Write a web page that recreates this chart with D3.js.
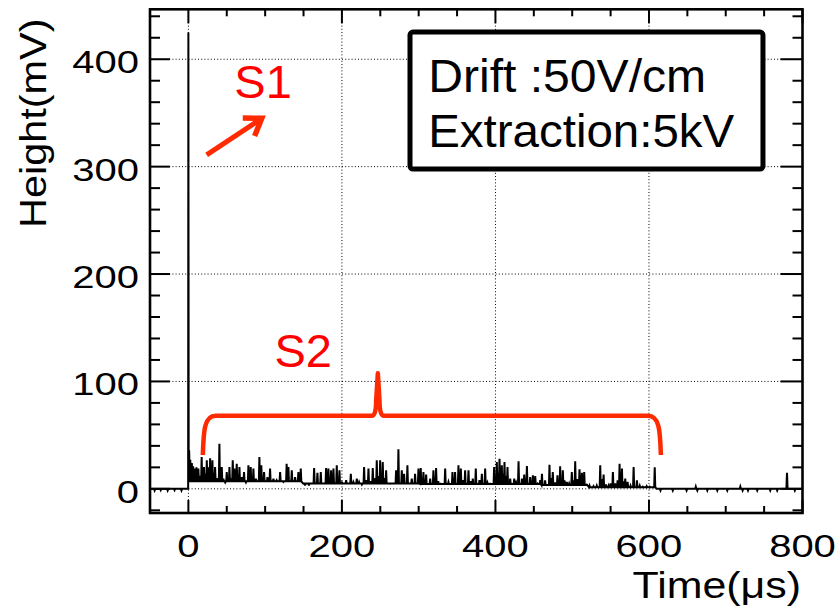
<!DOCTYPE html>
<html><head><meta charset="utf-8">
<script src="https://cdn.jsdelivr.net/npm/d3@7"></script>
<style>body{margin:0;background:#fff}svg{display:block}</style>
</head><body><svg id="c" width="838" height="611"></svg>
<script>
// ---------- data ----------
const xTickValues = [0, 200, 400, 600, 800];
const xTickLabels = ["0", "200", "400", "600", "800"];
const yTickValues = [0, 100, 200, 300, 400];
const yTickLabels = ["0", "100", "200", "300", "400"];
const xTitle = "Time(\u03BCs)";
const yTitle = "Height(mV)";
const boxLines = ["Drift :50V/cm", "Extraction:5kV"];

const s1Peak = [0, 425];               // [time us, height mV]
const s2Spikes = [
 [1.0,36],[2.5,27],[4.5,24],[6.2,21],[8.5,19],[10.5,20],[13,18.8],[15,12],[17.3,29.6],[20.3,20.3],
 [22,14],[24,26.5],[26,20],[28.3,28.5],[31.3,26.5],[33,15],[34.8,20.3],[37,10],[40.4,42],[43.5,20.3],
 [45.6,9.5],[48,6],[50,15.7],[53.5,20.3],[55.5,8],[57.8,26.5],[60,18.8],[63,23.4],[66.5,20.3],[69.5,11],
 [72.5,15.7],[75,6],[78.2,21.9],[81.2,20.3],[84.7,18.8],[88,9.5],[92.5,29.6],[95,21.9],[98.6,15.7],[101,7],
 [103,11],[106.4,18.8],[110.8,9.5],[115,8],[119.5,15.7],[123.8,6.4],[128,23.4],[130.3,20.3],[134.7,17.2],[139,11],
 [143.3,15.7],[146.4,18.8],[150,4.8],[152,3],[157,3],[163.8,19.4],[168.1,15],[172.5,15.7],[176,5],[179.4,19.4],
 [182.4,18.8],[185.9,17.2],[189,18.8],[193.3,21.9],[196.8,17.2],[200,6],[205.5,8],[211.6,14],[215,6.4],[219.4,9.5],
 [222.4,6.4],[226,4],[228.9,20.3],[231.5,8],[234.6,18.8],[237,7],[240.2,19.4],[243,10],[245.4,26.5],[247.5,12],
 [249.8,26.5],[253.2,25],[255.5,10],[257.6,17.2],[262.8,4.8],[267,5],[270.6,17.2],[273.6,36.8],[278,17.2],[281,14],
 [285.3,21.9],[291,9.5],[295.3,14],[299.7,18.8],[302.7,19.4],[306.2,15.7],[309.7,13.2],[315,9.5],[319.2,17.2],[322.7,19.4],
 [325.5,7],[328.8,4.8],[334.5,18.8],[338.8,6.4],[344,15.7],[347.4,15.7],[351.8,21.9],[354.9,18.8],[357.5,8],[360.5,17.2],
 [364.9,17.2],[367.5,7],[370.5,9.5],[374.4,18.8],[379.2,8],[382.3,14],[386.6,18.8],[389.5,6],[393.1,4.8],[398.3,20.3],
 [400.2,12],[401.8,25],[403.5,15],[405.3,28],[408.3,21.9],[410,14],[411.8,25],[413.5,12],[415.7,20.3],[419.2,9.5],
 [424.5,9.5],[427,6],[430.1,25.6],[434.5,9.5],[437.5,13.2],[441,21.3],[445.3,11],[448.8,12.6],[451.8,12],[455,5],
 [458.4,8],[460.6,14],[464.7,8],[470.4,22.5],[472.5,10],[474.7,15.7],[477.5,6],[480.8,12.6],[484.3,21],[487.8,17.2],
 [490,8],[493,6.4],[496,5],[499.5,15.7],[502,8],[503.9,25.6],[506.5,9],[509.5,18.2],[512.6,15],[515.6,15.7],
 [519,4],[522.6,3],[527.8,2.5],[532,3],[536.5,21.9],[538.5,9],[540.9,13.2],[544,4],[547.4,3],[550,5],
 [553,15.7],[556,5],[559.1,8],[561.7,23.4],[564.8,18.8],[566.5,7],[569.1,9.5],[572.2,6.4],[576,3],[580,20.3],
 [584.3,8],[588,3],[592,2],[597,2.5],[601,2],[607.5,20]
];
// valley level between S2 spikes: [from, to, mV]
const s2Floor = [[0,150,7],[150,300,5],[300,460,4.5],[460,520,3.5],[520,615,1.5]];
// small baseline excursions outside S2: [time, mV]
const baselineNoise = [
 [-44,-1.5],[-36,-1.2],[-27,-1.5],[-18,-1.2],[-9,-1.5],
 [615,-1.5],[631,-1.5],[649,-1.5],[661,2],[663,-1.5],[676,-1.5],[689,-1.5],[702,-1.5],
 [719,2],[722,-1.5],[729,-1.5],[741,-1.5],[758,-1.5],[767,-1.5],[779.8,15],[790,-1.5]
];
// annotations (data coordinates)
const s1Label = {text: "S1", t: 59.9, h: 363.9};
const s2Label = {text: "S2", t: 112.2, h: 113.7};
const s1Arrow = {t0: 23.8, h0: 310.9, t1: 95.6, h1: 345};
const s2Brace = {t0: 18.8, t1: 615.5, tMid: 246.8, hEnd: 31.5, hBar: 68, hPeak: 107.6};
const textBox = {t0: 288.7, t1: 748.5, h0: 297.8, h1: 425.3, tText: 312.4, hLines: [369.5, 318.5]};

// ---------- scales ----------
const svg = d3.select("#c");
const FONT = "'Liberation Sans', Arial, Helvetica, sans-serif";
const x = d3.scaleLinear().domain([-50, 800]).range([150, 802.5]);
const y = d3.scaleLinear().domain([-22.5, 446.5]).range([513, 9.3]);
const [X0, X1] = x.range(), [Y0, Y1] = y.range();

svg.append("rect").attr("width", 838).attr("height", 611).attr("fill", "#fff");
svg.append("clipPath").attr("id", "clip").append("rect")
  .attr("x", X0).attr("y", Y1).attr("width", X1 - X0).attr("height", Y0 - Y1);

// grid
const grid = svg.append("g").attr("stroke", "#000").attr("stroke-width", 1).attr("stroke-dasharray", "1,2.2");
xTickValues.filter(v => v > -50 && v < 800).forEach(v => {
  grid.append("line").attr("x1", x(v)).attr("x2", x(v)).attr("y1", Y0).attr("y2", Y1);
});
yTickValues.forEach(v => {
  grid.append("line").attr("x1", X0).attr("x2", X1).attr("y1", y(v)).attr("y2", y(v));
});

// waveform
const pts = [[-50, 0]];
baselineNoise.filter(d => d[0] < 0).forEach(([t, v]) => { pts.push([t - 0.8, 0], [t, v], [t + 0.8, 0]); });
pts.push([-0.3, 0], s1Peak, [0.4, s2Floor[0][2]]);
const floorAt = t => { const f = s2Floor.find(s => t >= s[0] && t < s[1]); return f ? f[2] : 0; };
s2Spikes.forEach(([t, v]) => { const fl = floorAt(t); pts.push([t - 0.7, fl], [t, v], [t + 0.7, fl]); });
pts.push([610, 0]);
baselineNoise.filter(d => d[0] > 0).forEach(([t, v]) => { pts.push([t - 0.8, 0], [t, v], [t + 0.8, 0]); });
pts.push([800, 0]);
svg.append("path").attr("clip-path", "url(#clip)")
  .attr("d", d3.line().x(d => x(d[0])).y(d => y(d[1]))(pts))
  .attr("fill", "none").attr("stroke", "#000").attr("stroke-width", 2).attr("stroke-linejoin", "miter");

// frame & ticks
const ax = svg.append("g").attr("stroke", "#000").attr("stroke-width", 2);
d3.range(0, 801, 50).forEach(v => {
  const maj = v % 200 === 0;
  ax.append("line").attr("x1", x(v)).attr("x2", x(v)).attr("y1", Y0).attr("y2", Y0 - (maj ? 13 : 7));
  ax.append("line").attr("x1", x(v)).attr("x2", x(v)).attr("y1", Y1).attr("y2", Y1 + (maj ? 14 : 7));
});
d3.range(-20, 441, 20).forEach(v => {
  const maj = v % 100 === 0;
  ax.append("line").attr("y1", y(v)).attr("y2", y(v)).attr("x1", X0).attr("x2", X0 + (maj ? 20 : 10));
  ax.append("line").attr("y1", y(v)).attr("y2", y(v)).attr("x1", X1).attr("x2", X1 - (maj ? 22 : 10));
});
svg.append("rect").attr("x", X0).attr("y", Y1).attr("width", X1 - X0).attr("height", Y0 - Y1)
  .attr("fill", "none").attr("stroke", "#000").attr("stroke-width", 2.6);

// tick labels
const TS = 1.27;
xTickValues.forEach((v, i) => {
  svg.append("text").attr("transform", `translate(${x(v)},556.7) scale(${TS},1)`)
    .attr("text-anchor", "middle").attr("font-family", FONT).attr("font-size", 31.5).text(xTickLabels[i]);
});
yTickValues.forEach((v, i) => {
  svg.append("text").attr("transform", `translate(139,${y(v) + 14}) scale(${TS},1)`)
    .attr("text-anchor", "end").attr("font-family", FONT).attr("font-size", 31.5).text(yTickLabels[i]);
});
// axis titles
svg.append("text").attr("transform", `translate(801,598.3) scale(1.16,1)`)
  .attr("text-anchor", "end").attr("font-family", FONT).attr("font-size", 37).text(xTitle);
svg.append("text").attr("transform", `translate(46,228) rotate(-90) scale(1.12,1)`)
  .attr("text-anchor", "start").attr("font-family", FONT).attr("font-size", 37).text(yTitle);

// text box
svg.append("rect").attr("x", x(textBox.t0)).attr("y", y(textBox.h1))
  .attr("width", x(textBox.t1) - x(textBox.t0)).attr("height", y(textBox.h0) - y(textBox.h1))
  .attr("rx", 3).attr("fill", "#fff").attr("stroke", "#000").attr("stroke-width", 5);
const boxLens = [278, 306];
boxLines.forEach((s, i) => {
  svg.append("text").attr("x", x(textBox.tText)).attr("y", y(textBox.hLines[i]))
    .attr("font-family", FONT).attr("font-size", 46)
    .attr("textLength", boxLens[i]).attr("lengthAdjust", "spacingAndGlyphs").text(s);
});

// annotations
const RED = "#ff0000", ORANGE = "#ff2a00";
[s1Label, s2Label].forEach(l => {
  svg.append("text").attr("x", x(l.t)).attr("y", y(l.h)).attr("fill", RED)
    .attr("font-family", FONT).attr("font-size", 47).text(l.text);
});
// arrow
{
  const ax0 = x(s1Arrow.t0), ay0 = y(s1Arrow.h0), ax1 = x(s1Arrow.t1), ay1 = y(s1Arrow.h1);
  const ang = Math.atan2(ay1 - ay0, ax1 - ax0), L = 19, A = 0.6;
  svg.append("line").attr("x1", ax0).attr("y1", ay0).attr("x2", ax1 - 3 * Math.cos(ang)).attr("y2", ay1 - 3 * Math.sin(ang))
    .attr("stroke", ORANGE).attr("stroke-width", 5);
  const w1 = [ax1 - L * Math.cos(ang - A), ay1 - L * Math.sin(ang - A)];
  const w2 = [ax1 - L * Math.cos(ang + A), ay1 - L * Math.sin(ang + A)];
  svg.append("path").attr("d", `M${w1}L${ax1},${ay1}L${w2}`).attr("fill", "none")
    .attr("stroke", ORANGE).attr("stroke-width", 5.5).attr("stroke-linejoin", "miter");
}
// brace
{
  const bx0 = x(s2Brace.t0), bx1 = x(s2Brace.t1), bm = x(s2Brace.tMid);
  const yE = y(s2Brace.hEnd), yB = y(s2Brace.hBar), yP = y(s2Brace.hPeak);
  const d = `M${bx0},${yE} C${bx0 + 0.8},${yB + 14} ${bx0 + 1.5},${yB} ${bx0 + 13},${yB}`
    + ` L${bm - 6},${yB} Q${bm - 1.7},${yB} ${bm - 1.7},${yB - 15} L${bm},${yP}`
    + ` L${bm + 1.7},${yB - 15} Q${bm + 1.7},${yB} ${bm + 6},${yB}`
    + ` L${bx1 - 13},${yB} C${bx1 - 1.5},${yB} ${bx1 - 0.8},${yB + 14} ${bx1},${yE}`;
  svg.append("path").attr("d", d).attr("fill", "none").attr("stroke", ORANGE)
    .attr("stroke-width", 4.5).attr("stroke-linejoin", "round");
}
</script></body></html>
